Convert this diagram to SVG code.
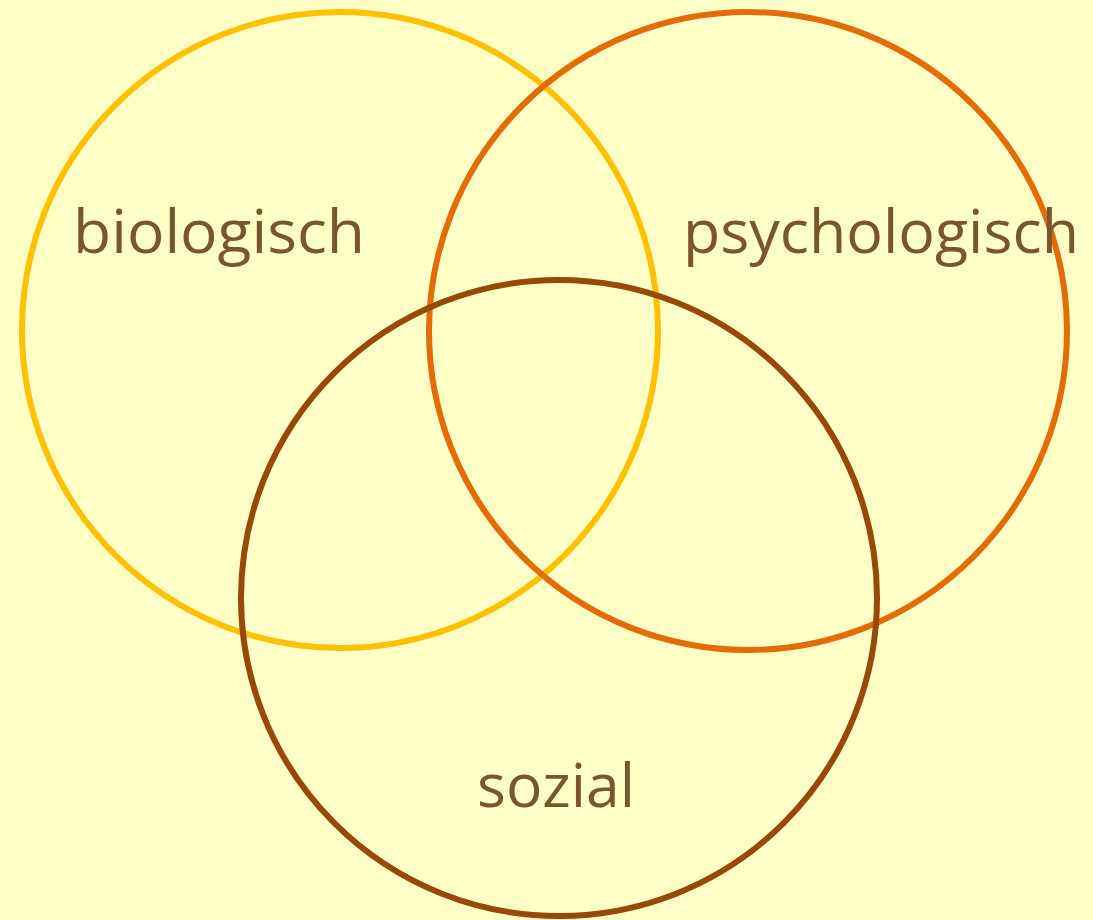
<svg xmlns="http://www.w3.org/2000/svg" width="1093" height="920" viewBox="0 0 1093 920">
<style>
.ring{fill:none;stroke-width:6}
.lbl{font-family:"Open Sans","Liberation Sans",sans-serif;font-size:60px;fill:#7a5530}
</style>
<rect width="1093" height="920" fill="#FFFFC6"/>
<g id="biologisch">
<circle class="ring" cx="340" cy="330" r="318" stroke="#FFC000"/>
<text class="lbl" x="73" y="253" textLength="292" lengthAdjust="spacingAndGlyphs">biologisch</text>
</g>
<g id="psychologisch">
<circle class="ring" cx="748" cy="331" r="319" stroke="#E36C09"/>
<text class="lbl" x="683" y="253" textLength="396" lengthAdjust="spacingAndGlyphs">psychologisch</text>
</g>
<g id="sozial">
<circle class="ring" cx="559" cy="598" r="318" stroke="#984807"/>
<text class="lbl" x="477" y="807" textLength="158" lengthAdjust="spacingAndGlyphs">sozial</text>
</g>
<g id="connectors"/>
</svg>
